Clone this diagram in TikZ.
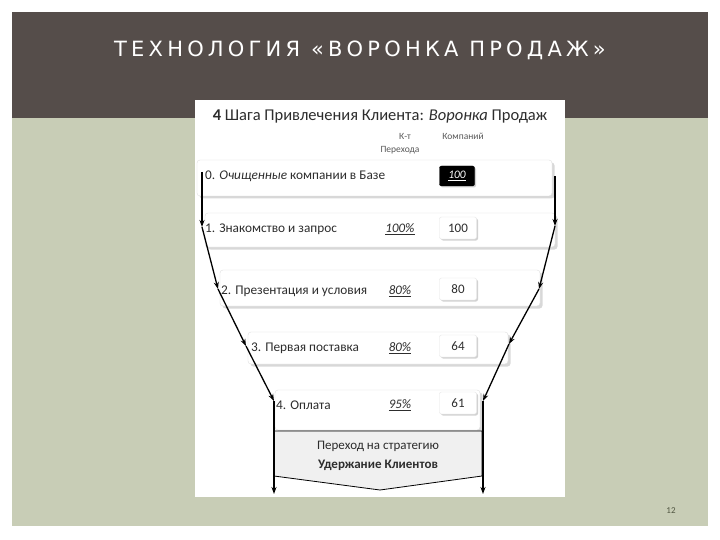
\documentclass[tikz,border=0pt]{standalone}
\usepackage{fontspec}
\setmainfont{Carlito}
\newfontfamily\titlefont[LetterSpace=20]{DejaVu Sans}
\usetikzlibrary{arrows.meta,shadows,calc}
\definecolor{barcol}{RGB}{85,77,74}
\definecolor{sage}{RGB}{200,205,182}
\definecolor{txt}{RGB}{45,45,45}
\definecolor{pnum}{RGB}{80,85,65}
\tikzset{
  rowbox/.style={draw=gray!25, fill=white, rounded corners=3pt, inner sep=0pt,
    drop shadow={shadow xshift=2.5pt, shadow yshift=-2.5pt, opacity=0.3, fill=gray}},
  valbox/.style={draw=gray!20, fill=white, rounded corners=2pt, minimum width=37pt, minimum height=22pt,
    inner sep=0pt, font=\fontsize{13}{14}\selectfont, text=txt,
    drop shadow={shadow xshift=1.5pt, shadow yshift=-1.5pt, opacity=0.35, fill=gray}},
  rowlabel/.style={anchor=west, inner sep=0pt, font=\fontsize{13.3}{15}\selectfont, text=txt},
  pct/.style={inner sep=0pt, font=\fontsize{13}{14}\selectfont\itshape, text=txt},
  hdr/.style={inner sep=0pt, font=\fontsize{9.5}{11}\selectfont, text=gray!70!black},
  flow/.style={line width=1.3pt, -{Stealth[length=7pt,width=5pt]}}
}
\begin{document}
\begin{tikzpicture}[x=1pt,y=-1pt]
\useasboundingbox (0,0) rectangle (720,540);
\fill[white] (0,0) rectangle (720,540);
% slide background
\fill[barcol] (12,12) rectangle (708,118);
\fill[sage] (12,118) rectangle (708,526);
\node[text=white, inner sep=0pt, font=\fontsize{21}{24}\selectfont\titlefont] (title) at (360,50) {ТЕХНОЛОГИЯ «ВОРОНКА ПРОДАЖ»};
\node[text=pnum, inner sep=0pt, font=\fontsize{9}{10}\selectfont] (pagenum) at (671,511) {12};
% white picture area
\fill[white] (195,100) rectangle (565,497);
\node[inner sep=0pt, text=txt, font=\fontsize{16.5}{18}\selectfont] (head) at (380,117) {\textbf{4} Шага Привлечения Клиента: \textit{Воронка} Продаж};
\node[hdr] (kt) at (405,136) {К-т};
\node[hdr] (per) at (400,150) {Перехода};
\node[hdr] (komp) at (463,136) {Компаний};
% rows
\node[rowbox, minimum width=355pt, minimum height=36pt] (row0) at (374.5,178) {};
\node[rowbox, minimum width=350pt, minimum height=34pt] (row1) at (380,230) {};
\node[rowbox, minimum width=320pt, minimum height=36pt] (row2) at (380,288) {};
\node[rowbox, minimum width=260pt, minimum height=32pt] (row3) at (378,348) {};
\node[rowbox, minimum width=205pt, minimum height=40pt] (row4) at (377.5,410) {};
% bottom pentagon
\path[draw=black, line width=0.8pt, fill=gray!12] (274,431) -- (482,431) -- (482,476) -- (380,490) -- (274,476) -- cycle;
\node[inner sep=0pt, align=center, text=txt, font=\fontsize{13}{19}\selectfont] (strat) at (378,456) {Переход на стратегию\\\textbf{Удержание Клиентов}};
% row labels
\node[rowlabel] (lab0) at (205,176) {0. \textit{Очищенные} компании в Базе};
\node[rowlabel] (lab1) at (205,229) {1. Знакомство и запрос};
\node[rowlabel] (lab2) at (221,291) {2. Презентация и условия};
\node[rowlabel] (lab3) at (251,348) {3. Первая поставка};
\node[rowlabel] (lab4) at (276,405) {4. Оплата};
% percentages
\node[pct] (p1) at (400,229) {\underline{100\%}};
\node[pct] (p2) at (400,291) {\underline{80\%}};
\node[pct] (p3) at (400,348) {\underline{80\%}};
\node[pct] (p4) at (400,405) {\underline{95\%}};
% values
\node[valbox, fill=black, draw=black, text=white, minimum width=35pt, minimum height=20pt, font=\fontsize{11.5}{12}\selectfont\itshape] (v0) at (457,176) {\underline{100}};
\node[valbox] (v1) at (458,228) {100};
\node[valbox] (v2) at (458,289) {80};
\node[valbox] (v3) at (458,346) {64};
\node[valbox] (v4) at (458,403) {61};
% funnel arrows
\coordinate (L0) at (202,172);
\coordinate (L1) at (202,227);
\coordinate (L2) at (218,289);
\coordinate (L3) at (246,346);
\coordinate (L4) at (274,401);
\coordinate (L5) at (274,494);
\coordinate (R0) at (555,176);
\coordinate (R1) at (555,226);
\coordinate (R2) at (539,289);
\coordinate (R3) at (509,344);
\coordinate (R4) at (483,401);
\coordinate (R5) at (483,494);
\draw[flow] (L0) -- (L1);
\draw[flow] (L1) -- (L2);
\draw[flow] (L2) -- (L3);
\draw[flow] (L3) -- (L4);
\draw[flow] (L4) -- (L5);
\draw[flow] (R0) -- (R1);
\draw[flow] (R1) -- (R2);
\draw[flow] (R2) -- (R3);
\draw[flow] (R3) -- (R4);
\draw[flow] (R4) -- (R5);
\end{tikzpicture}
\end{document}
